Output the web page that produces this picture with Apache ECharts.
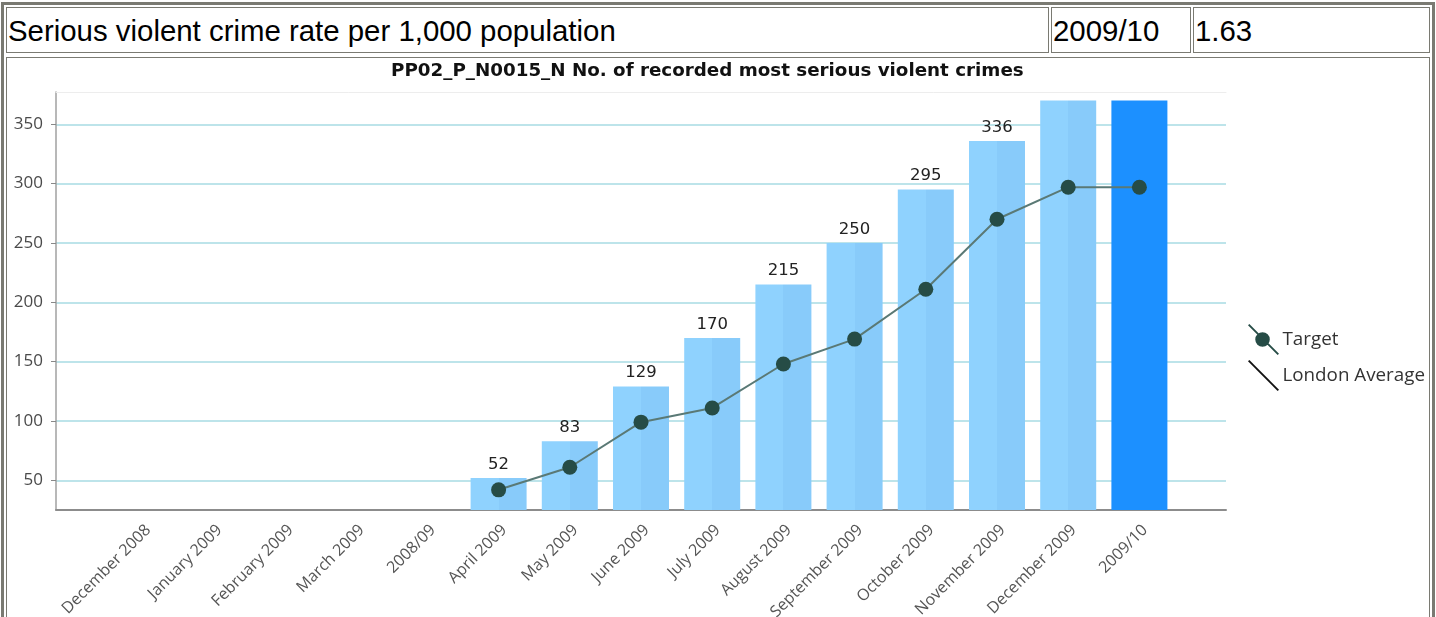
<!DOCTYPE html>
<html>
<head>
<meta charset="utf-8">
<title>PP02_P_N0015_N</title>
<script src="https://cdn.jsdelivr.net/npm/echarts@6/dist/echarts.min.js"></script>
<style>
  html, body { margin: 0; padding: 0; background: #fff; width: 1436px; height: 617px; overflow: hidden; }
  .frame { position: absolute; box-sizing: border-box; left: 1px; top: 2px; width: 1434px; height: 700px; border: 3px solid #7a7a72; }
  .box { position: absolute; box-sizing: border-box; border: 1px solid #7a7a72; }
  .cell { font-family: "Liberation Sans", Arial, sans-serif; font-size: 29.4px; color: #000; line-height: 46px; padding-left: 1px; white-space: nowrap; }
  #chart { position: absolute; left: 0; top: 0; width: 1436px; height: 617px; }
</style>
</head>
<body>
<div class="frame"></div>
<div class="box cell" style="left:6px;top:7px;width:1043px;height:46px;">Serious violent crime rate per 1,000 population</div>
<div class="box cell" style="left:1051px;top:7px;width:140px;height:46px;">2009/10</div>
<div class="box cell" style="left:1193px;top:7px;width:237px;height:46px;">1.63</div>
<div class="box" style="left:6px;top:57px;width:1424px;height:700px;"></div>
<div id="chart"></div>
<script>
  // Monthly periods plus the two financial-year totals
  const categories = [
    'December 2008', 'January 2009', 'February 2009', 'March 2009', '2008/09',
    'April 2009', 'May 2009', 'June 2009', 'July 2009', 'August 2009',
    'September 2009', 'October 2009', 'November 2009', 'December 2009', '2009/10'
  ];
  // Cumulative number of recorded most serious violent crimes
  const recordedCrimes = [null, null, null, null, null, 52, 83, 129, 170, 215, 250, 295, 336, 370, 370];
  // Target trajectory
  const targetValues = [null, null, null, null, null, 42, 61, 99, 111, 148, 169, 211, 270, 297, 297];
  // London average (no values published for this period)
  const londonAverage = [null, null, null, null, null, null, null, null, null, null, null, null, null, null, null];
  // Value axis
  const yTicks = [50, 100, 150, 200, 250, 300, 350];
  const yMin = 25;
  const yMax = 377.2;

  const uiFont = '"Open Sans", "Noto Sans", sans-serif';
  const lastIndex = categories.length - 1;

  const barFill = new echarts.graphic.LinearGradient(0, 0, 1, 0, [
    { offset: 0, color: '#8fd2fe' }, { offset: 0.5, color: '#8fd2fe' },
    { offset: 0.5, color: '#88cbfa' }, { offset: 1, color: '#88cbfa' }
  ]);

  const barData = recordedCrimes.map((v, i) => ({
    value: v,
    itemStyle: i === lastIndex ? { color: '#1c90ff' } : undefined,
    // values that reach the top edge of the plot have their labels cut off
    label: { show: v !== null && v < yMax - 20 }
  }));

  const chart = echarts.init(document.getElementById('chart'), null, { renderer: 'canvas' });

  chart.setOption({
    animation: false,
    title: {
      text: 'PP02_P_N0015_N No. of recorded most serious violent crimes',
      left: 391,
      top: 62,
      padding: 0,
      textStyle: { fontFamily: '"DejaVu Sans", sans-serif', fontWeight: 'bold', fontSize: 18.3, color: '#111' }
    },
    legend: {
      orient: 'vertical',
      left: 1248,
      top: 324,
      itemWidth: 32,
      itemHeight: 31,
      itemGap: 5,
      padding: 0,
      textStyle: { fontFamily: uiFont, fontSize: 18.8, color: '#333', padding: [0, 0, 0, -2] },
      data: [
        { name: 'Target', icon: 'path://M0,1.4L1.4,0L32,30.6L30.6,32Z M15,8.5A7.5,7.5 0 1 1 15,23.5A7.5,7.5 0 1 1 15,8.5Z' },
        { name: 'London Average', icon: 'path://M0,1.4L1.4,0L32,30.6L30.6,32Z' }
      ]
    },
    grid: [
      { left: 56, right: 210, top: 92, bottom: 107, outerBoundsMode: 'none' },
      { left: 107, right: 261, top: 92, bottom: 107, outerBoundsMode: 'none' }
    ],
    xAxis: [
      {
        gridIndex: 0, type: 'category', data: [''],
        axisLine: { show: true, lineStyle: { color: '#8c8c8c', width: 2 } },
        axisTick: { show: false }, axisLabel: { show: false }, splitLine: { show: false }
      },
      {
        gridIndex: 0, type: 'category', data: [''], position: 'top',
        axisLine: { show: true, lineStyle: { color: '#ededed', width: 1 } },
        axisTick: { show: false }, axisLabel: { show: false }, splitLine: { show: false }
      },
      {
        gridIndex: 1, type: 'category', data: categories,
        axisLine: { show: false }, axisTick: { show: false },
        axisLabel: {
          rotate: 45, interval: 0, margin: 12, verticalAlign: 'top',
          fontFamily: uiFont, fontSize: 16, color: '#555'
        }
      }
    ],
    yAxis: [
      {
        gridIndex: 0, type: 'value', min: yMin, max: yMax, splitNumber: 7,
        axisLine: { show: true, lineStyle: { color: '#a0a0a0', width: 1.5 } },
        axisTick: { show: true, length: 5, lineStyle: { color: '#888' }, customValues: yTicks },
        axisLabel: {
          customValues: yTicks,
          margin: 13, fontFamily: uiFont, fontSize: 17, color: '#4a4a4a'
        },
        splitLine: { show: true, lineStyle: { color: '#bde4ea', width: 2 } }
      },
      {
        gridIndex: 1, type: 'value', min: yMin, max: yMax, show: false,
        splitLine: { show: false }
      }
    ],
    series: [
      {
        name: 'Recorded crimes',
        type: 'bar',
        xAxisIndex: 2, yAxisIndex: 1,
        barWidth: 56,
        itemStyle: { color: barFill },
        label: {
          show: true, position: 'top', distance: 5,
          fontFamily: '"DejaVu Sans", sans-serif', fontSize: 16.5, color: '#222'
        },
        data: barData
      },
      {
        name: 'Target',
        type: 'line',
        xAxisIndex: 2, yAxisIndex: 1,
        symbol: 'circle', symbolSize: 15,
        itemStyle: { color: '#264c46' },
        lineStyle: { color: '#5a7975', width: 2 },
        z: 5,
        data: targetValues
      },
      {
        name: 'London Average',
        type: 'line',
        xAxisIndex: 2, yAxisIndex: 1,
        symbol: 'none',
        itemStyle: { color: '#111' },
        lineStyle: { color: '#111', width: 2 },
        data: londonAverage
      }
    ]
  });
</script>
</body>
</html>
